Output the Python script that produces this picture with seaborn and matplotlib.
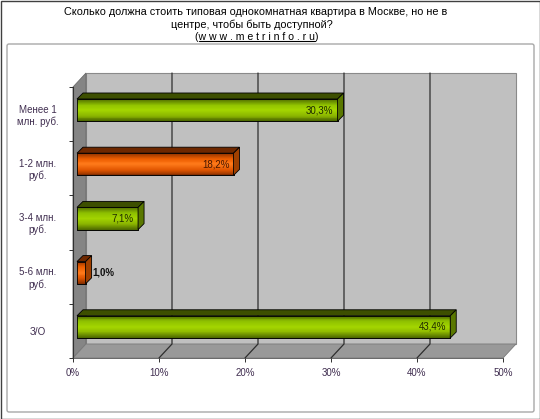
import seaborn as sns
import matplotlib.pyplot as plt
import numpy as np
from matplotlib.patches import Polygon, Rectangle, FancyBboxPatch
from matplotlib.lines import Line2D
from matplotlib.colors import to_rgb
from matplotlib.transforms import IdentityTransform

# data
categories = ['Менее 1\nмлн. руб.', '1-2 млн.\nруб.', '3-4 млн.\nруб.', '5-6 млн.\nруб.', 'З/О']
values = [30.3, 18.2, 7.1, 1.0, 43.4]
value_labels = ['30,3%', '18,2%', '7,1%', '1,0%', '43,4%']
x_ticks = [0, 10, 20, 30, 40, 50]
title_lines = ['Сколько должна стоить типовая однокомнатная квартира в Москве, но не в',
               'центре, чтобы быть доступной?']
url = '(w w w . m e t r i n f o . r u)'

sns.set_theme(style='white')
plt.rcParams['font.family'] = ['Liberation Sans', 'DejaVu Sans']

GREEN = '#99CC00'
ORANGE = '#FF6600'
bar_colors = [GREEN, ORANGE, GREEN, ORANGE, GREEN]
# gradient stops, top -> bottom of the front face
grad = {GREEN: ['#4F6B00', '#8DBF00', '#A4D600', '#8AB400', '#4A6400'],
        ORANGE: ['#8A3000', '#EE5E00', '#FF7A1A', '#E05500', '#7F2C00']}
top_col = {GREEN: '#3D4F00', ORANGE: '#6E2800'}
end_col = {GREEN: '#5A7800', ORANGE: '#A04000'}
label_col = {GREEN: '#1F2A00', ORANGE: '#4A1800'}

W, H = 540, 419
fig = plt.figure(figsize=(W / 100, H / 100), dpi=100)
fig.patch.set_facecolor('white')

# outer frame + chart area frame
fig.add_artist(Rectangle((0.5, 0.5), W - 1, H - 1, transform=IdentityTransform(),
                         fill=False, edgecolor='#404040', lw=1))
fig.add_artist(FancyBboxPatch((7, 7), 527, 368, boxstyle='round,pad=0,rounding_size=2',
                              transform=IdentityTransform(), fill=False,
                              edgecolor='#A8A8A8', lw=1))

ax = fig.add_axes([73 / W, 61 / H, 430 / W, 271 / H])
ax.patch.set_visible(False)

sns.barplot(x=values, y=categories, hue=categories, palette=bar_colors, legend=False,
            orient='h', width=0.41, edgecolor='black', linewidth=0.5, ax=ax, zorder=3)
ax.set_xlim(0, 50)
ax.set_ylim(4.5, -0.5)

# 3D walls (axes fraction)
dxf, dyf = 13 / 430, 14 / 271
tA = ax.transAxes
ax.add_patch(Polygon([(dxf, dyf), (1 + dxf, dyf), (1 + dxf, 1 + dyf), (dxf, 1 + dyf)],
                     closed=True, transform=tA, clip_on=False, facecolor='#C0C0C0',
                     edgecolor='#8A8A8A', lw=0.8, zorder=0.2))
ax.add_patch(Polygon([(0, 0), (dxf, dyf), (dxf, 1 + dyf), (0, 1)], closed=True,
                     transform=tA, clip_on=False, facecolor='#858585',
                     edgecolor='#6A6A6A', lw=0.6, zorder=0.3))
ax.add_patch(Polygon([(0, 0), (1, 0), (1 + dxf, dyf), (dxf, dyf)], closed=True,
                     transform=tA, clip_on=False, facecolor='#999999',
                     edgecolor='#7A7A7A', lw=0.6, zorder=0.3))
for t in x_ticks[1:-1]:
    f = t / 50
    ax.add_line(Line2D([f, f + dxf, f + dxf], [0, dyf, 1 + dyf], transform=tA,
                       clip_on=False, color='#2E2E2E', lw=0.9, zorder=0.4))

# px -> data conversion
def px2data(dxp, dyp):
    p0 = ax.transData.transform((0, 0))
    q = ax.transData.inverted().transform(p0 + np.array([dxp, dyp]))
    return q[0], q[1]

sx, sy = px2data(4, 4)      # bar sits mid-depth
ddx, ddy = px2data(6, 6)    # bar depth
lx_in, _ = px2data(4, 0)
lx_out, _ = px2data(7, 0)

for patch, col, val, lab in zip(ax.patches[:len(values)], bar_colors, values, value_labels):
    x0, y0 = patch.get_x() + sx, patch.get_y() + sy
    w, h = patch.get_width(), patch.get_height()
    patch.set_x(x0)
    patch.set_y(y0)
    x1 = x0 + w
    ytop, ybot = y0, y0 + h   # inverted axis: smaller y is higher
    # gradient strips over the front face
    stops = np.array([to_rgb(c) for c in grad[col]])
    n = 24
    pos = np.linspace(0, 1, len(stops))
    for i in range(n):
        t = (i + 0.5) / n
        c = [np.interp(t, pos, stops[:, k]) for k in range(3)]
        ax.add_patch(Rectangle((x0, ytop + h * i / n), w, h / n, facecolor=c,
                               edgecolor='none', zorder=3.1))
    ax.add_patch(Rectangle((x0, ytop), w, h, fill=False, edgecolor='black', lw=0.6,
                           zorder=3.2))
    ax.add_patch(Polygon([(x0, ytop), (x1, ytop), (x1 + ddx, ytop + ddy), (x0 + ddx, ytop + ddy)],
                         closed=True, facecolor=top_col[col], edgecolor='black', lw=0.6,
                         zorder=3.2))
    ax.add_patch(Polygon([(x1, ytop), (x1 + ddx, ytop + ddy), (x1 + ddx, ybot + ddy), (x1, ybot)],
                         closed=True, facecolor=end_col[col], edgecolor='black', lw=0.6,
                         zorder=3.2))
    yc = (ytop + ybot) / 2
    if val < 3:
        ax.text(x1 + lx_out, yc, lab, ha='left', va='center', fontsize=7,
                fontweight='bold', color='#101010', zorder=4)
    else:
        ax.text(x1 - lx_in, yc, lab, ha='right', va='center', fontsize=7,
                color=label_col[col], zorder=4)

# axes, ticks
for s in ['top', 'right']:
    ax.spines[s].set_visible(False)
ax.spines['left'].set_color('#303030')
ax.spines['left'].set_linewidth(0.8)
ax.spines['bottom'].set_color('#5A5A5A')
ax.spines['bottom'].set_linewidth(0.6)
for sp in ax.spines.values():
    sp.set_zorder(0.5)

ax.set_xticks(x_ticks)
ax.set_xticklabels([f'{t}%' for t in x_ticks])
ax.tick_params(axis='x', direction='out', length=3, width=0.7, color='#303030',
               pad=4, labelsize=7, labelcolor='#402E50', bottom=True)
ax.set_yticks(range(len(categories)))
ax.set_yticklabels(categories)
ax.tick_params(axis='y', which='major', length=0, pad=25.5, labelsize=7,
               labelcolor='#402E50')
ax.set_yticks(np.arange(-0.5, len(categories), 1.0), minor=True)
ax.tick_params(axis='y', which='minor', direction='out', length=3, width=0.7,
               color='#303030', left=True)
for tl in ax.get_yticklabels():
    tl.set_ha('center')
    tl.set_multialignment('center')
ax.set_xlabel('')
ax.set_ylabel('')

# title
fig.text(256 / W, 1 - 12 / H, title_lines[0], ha='center', va='center', fontsize=7.8, color='black')
fig.text(252 / W, 1 - 24.5 / H, title_lines[1], ha='center', va='center', fontsize=7.8, color='black')
ut = fig.text(257 / W, 1 - 37 / H, url, ha='center', va='center', fontsize=7.6, color='black')
fig.canvas.draw()
bb = ut.get_window_extent()
fig.add_artist(Line2D([bb.x0 + 4, bb.x1 - 4], [bb.y0 + 1, bb.y0 + 1],
                      transform=IdentityTransform(), color='black', lw=0.8))

fig.savefig('out.png', dpi=100)
